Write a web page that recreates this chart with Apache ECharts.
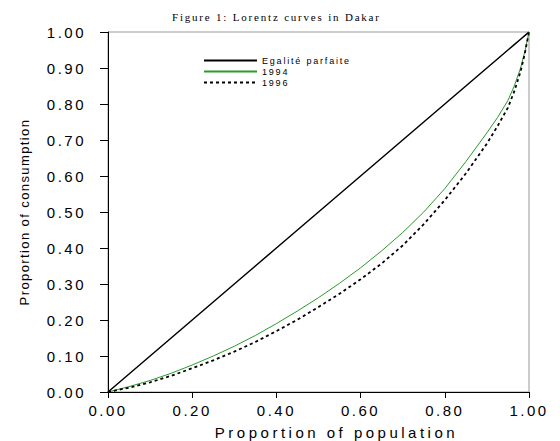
<!DOCTYPE html>
<html>
<head>
<meta charset="utf-8">
<script src="https://cdn.jsdelivr.net/npm/echarts@6/dist/echarts.min.js"></script>
<style>html,body{margin:0;padding:0;background:#fff}#c{width:560px;height:441px}</style>
</head>
<body>
<div id="c"></div>
<script>
const titleText = 'Figure 1: Lorentz curves in Dakar';
const xName = 'Proportion of population';
const yName = 'Proportion of consumption';
const seriesNames = ['Egalité parfaite', '1994', '1996'];
const popShare = [0, 0.05, 0.1, 0.15, 0.2, 0.25, 0.3, 0.35, 0.4, 0.45, 0.5, 0.55, 0.6, 0.65, 0.7, 0.75, 0.8, 0.85, 0.9, 0.925, 0.95, 0.965, 0.98, 0.99, 1.0];
const equality = [0, 0.05, 0.1, 0.15, 0.2, 0.25, 0.3, 0.35, 0.4, 0.45, 0.5, 0.55, 0.6, 0.65, 0.7, 0.75, 0.8, 0.85, 0.9, 0.925, 0.95, 0.965, 0.98, 0.99, 1.0];
const cons1994 = [0, 0.015, 0.032, 0.052, 0.075, 0.1, 0.127, 0.157, 0.19, 0.225, 0.262, 0.302, 0.345, 0.392, 0.443, 0.5, 0.565, 0.64, 0.72, 0.762, 0.81, 0.85, 0.9, 0.945, 1.0];
const cons1996 = [0, 0.012, 0.027, 0.045, 0.066, 0.088, 0.112, 0.139, 0.169, 0.201, 0.236, 0.273, 0.313, 0.357, 0.407, 0.466, 0.533, 0.607, 0.69, 0.738, 0.79, 0.835, 0.89, 0.94, 1.0];

const pairs = (ys) => popShare.map((x, i) => [x, ys[i]]);
const chart = echarts.init(document.getElementById('c'), null, {renderer: 'svg'});
chart.setOption({
  animation: false,
  backgroundColor: '#fff',
  title: {
    text: titleText, left: 172, top: 11, padding: 0,
    textStyle: {fontFamily: 'Liberation Serif', fontSize: 11, fontWeight: 'normal', color: '#000'}
  },
  legend: {
    orient: 'vertical', left: 203, top: 56, padding: 0, itemWidth: 53, itemHeight: 9, itemGap: 2,
    itemStyle: {opacity: 0},
    textStyle: {fontFamily: 'Arial', fontSize: 9, color: '#000'},
    data: seriesNames
  },
  grid: {left: 108, right: 31, top: 32, bottom: 49, show: true, borderColor: '#999', borderWidth: 1,
         containLabel: false, outerBoundsMode: 'none'},
  xAxis: {
    type: 'value', min: 0, max: 1, interval: 0.2,
    name: xName, nameLocation: 'middle', nameGap: 33,
    nameTextStyle: {fontFamily: 'Arial', fontSize: 15, color: '#000', padding: [0, 0, 0, 36]},
    axisLine: {show: true, lineStyle: {color: '#000', width: 1}},
    axisTick: {show: true, length: 6, lineStyle: {color: '#000'}},
    axisLabel: {margin: 11, fontFamily: 'Arial', fontSize: 15, color: '#000', formatter: v => v.toFixed(2)},
    splitLine: {show: false}
  },
  yAxis: {
    type: 'value', min: 0, max: 1, interval: 0.1,
    name: yName, nameLocation: 'middle', nameGap: 77, nameRotate: 90,
    nameTextStyle: {fontFamily: 'Arial', fontSize: 13, color: '#000'},
    axisLine: {show: true, lineStyle: {color: '#000', width: 1}},
    axisTick: {show: true, length: 8, lineStyle: {color: '#000'}},
    axisLabel: {margin: 22, fontFamily: 'Arial', fontSize: 15, color: '#000', formatter: v => v.toFixed(2)},
    splitLine: {show: false}
  },
  series: [
    {name: seriesNames[0], type: 'line', data: pairs(equality), showSymbol: false, symbol: 'none',
     lineStyle: {color: '#000', width: 1.5}, itemStyle: {color: '#000'}},
    {name: seriesNames[1], type: 'line', data: pairs(cons1994), showSymbol: false, symbol: 'none',
     lineStyle: {color: '#2a9a2a', width: 1}, itemStyle: {color: '#2a9a2a'}},
    {name: seriesNames[2], type: 'line', data: pairs(cons1996), showSymbol: false, symbol: 'none',
     lineStyle: {color: '#000', width: 1.8, type: [3, 3]}, itemStyle: {color: '#000'}}
  ]
});

function spaceText() {
  document.querySelectorAll('#c svg text').forEach(t => {
    const s = t.textContent;
    let ls = '2.5px';
    if (s === titleText) ls = '1.8px';
    else if (seriesNames.includes(s)) ls = '1.8px';
    else if (s === yName) ls = '1.4px';
    else if (s === xName) ls = '3.5px';
    t.style.letterSpacing = ls;
  });
}
spaceText();
chart.on('finished', spaceText);
setTimeout(spaceText, 50);
</script>
</body>
</html>
